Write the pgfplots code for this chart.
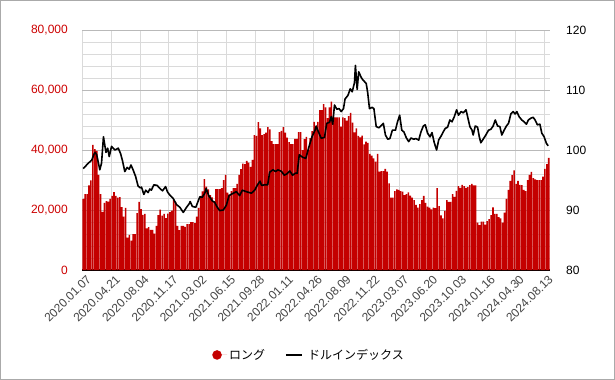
\documentclass[border=0pt]{standalone}
\usepackage{fontspec}
\setmainfont{Liberation Sans}
\newfontfamily\jp{Noto Sans CJK JP}
\usepackage{pgfplots}
\usepackage{pgfplotstable}
\pgfplotsset{compat=1.18}
\definecolor{barred}{RGB}{196,0,0}
\definecolor{lblred}{RGB}{204,0,0}
\definecolor{tickgray}{RGB}{68,68,68}
\definecolor{gridminor}{RGB}{218,218,218}
\definecolor{gridmajor}{RGB}{185,185,185}
\definecolor{framegray}{RGB}{170,170,170}

\pgfplotstableread{
y
23700
25300
25300
28200
29900
41700
40300
39700
31700
25300
19400
22400
23000
22800
23700
24700
26000
24700
24100
24300
21000
17800
20700
10800
11700
9800
12000
12000
19000
22700
20300
18400
18700
13900
14300
13400
13400
12100
14700
18300
20100
18100
18700
17300
18800
19300
19800
23300
22700
14700
13300
14700
14700
14400
15300
15300
16000
16000
15600
17800
20700
24700
26200
30300
27800
26900
25000
24200
22800
27000
27000
27000
27300
30000
31700
25800
25100
26300
27300
27300
28700
31700
33600
35500
35300
36400
35800
34400
36700
45000
44700
49300
47200
45000
45300
45800
47600
46900
43000
42000
42000
42000
46000
46400
47600
45800
44100
42600
42000
42000
43700
43700
46000
46000
40000
43600
44400
40000
44000
46300
49400
47800
49400
53300
53300
55300
54200
50600
54200
56100
51100
50900
50900
50900
47800
50900
50600
49800
51300
52400
49100
45900
47200
44700
44200
44800
41900
42800
42400
38700
38100
37200
36100
38700
32800
33000
33000
33700
32800
28900
24100
24100
26300
26900
26700
26300
26100
25000
25300
25900
24800
24100
23300
21700
20800
22000
23300
24700
22400
21100
20800
20200
20800
20600
27300
21300
18200
17200
19700
23300
22700
22700
25300
24400
26400
28000
27400
28400
28000
27400
27600
28300
28700
28200
28200
15800
15000
16100
16100
15100
16300
17000
18300
20900
18700
18700
17600
17200
15800
19100
23700
26700
29700
31600
33200
28700
29700
28400
28300
26700
26300
30000
31700
32700
30600
30200
30000
30000
30000
31100
33700
35300
37400
}\longdata

\pgfplotstableread{
x y
0 96.9
2.6 97.8
4.4 98.3
5.7 99.4
6.2 99.6
7.0 99.2
8.6 96.7
9.5 97.8
10.5 102.2
11.8 99.6
12.7 100.3
13.5 98.9
14.7 100.6
16.5 100.0
18.2 100.3
19.4 99.4
20.4 98.2
21.6 96.4
22.8 97.1
23.9 96.8
24.8 97.5
25.9 96.7
27.2 95.6
28.5 94.0
29.5 93.7
30.3 93.8
31.5 92.6
32.5 93.3
33.7 92.9
34.6 93.5
35.4 93.3
36.7 94.2
38.4 94.1
39.8 93.6
41.2 93.2
42.8 93.9
43.8 93.0
45.0 92.5
46.7 91.95
48.5 90.9
50.2 90.45
52.0 89.6
53.7 90.45
55.0 91.0
55.6 91.4
56.7 90.6
58.5 90.45
60.6 92.2
61.8 92.1
63.2 92.8
63.9 93.6
65.2 92.4
67.1 91.5
68.3 91.3
69.4 90.6
70.9 89.9
72.8 90.0
74.4 90.8
75.8 92.4
77.4 92.7
79.6 93.05
81.3 92.4
82.7 93.3
84.8 93.05
87.4 92.8
89.1 93.3
90.8 94.3
91.9 94.8
92.7 94.1
94.3 94.2
95.9 94.2
96.9 96.3
98.6 96.7
100.0 96.4
101.2 96.7
103.0 96.45
104.5 95.8
106.0 96.05
107.4 96.5
108.8 95.8
110.4 96.15
111.2 96.1
112.3 99.2
114.0 98.8
115.7 98.6
117.3 100.5
118.9 102.2
120.5 103.3
121.1 104.0
121.9 103.3
123.7 101.95
125.4 102.1
126.6 104.45
128.0 104.6
128.9 105.55
129.7 104.3
130.6 107.5
131.8 106.8
133.0 106.9
134.1 106.4
135.3 106.9
136.1 108.5
137.6 109.1
138.8 110.2
139.8 109.7
141.0 111.2
141.5 114.1
142.4 110.1
143.2 113.05
144.5 112.1
145.3 111.7
146.2 111.4
147.1 111.1
147.9 109.5
148.8 106.9
150.2 107.1
151.1 106.9
152.3 103.9
153.7 103.7
155.0 104.1
156.0 104.45
157.1 102.5
158.3 101.8
159.4 101.9
160.7 103.3
162.3 103.3
163.3 104.6
164.5 105.8
165.6 103.3
166.7 103.0
168.0 102.0
169.2 101.4
170.4 102.0
171.8 101.8
173.0 101.9
174.4 101.65
175.6 103.05
176.8 104.0
177.8 104.2
179.0 102.8
180.3 102.2
181.3 102.9
182.5 101.2
183.7 100.0
184.8 101.7
186.0 102.3
187.2 103.05
188.2 103.6
189.4 103.8
190.6 105.0
191.7 104.7
192.9 105.55
194.1 106.7
195.1 105.8
196.4 106.4
197.6 106.2
199.0 106.7
200.0 105.3
201.0 103.9
202.1 103.3
202.7 102.5
203.8 104.0
205.0 103.8
205.9 102.2
206.7 101.2
207.9 101.8
209.3 102.5
210.7 103.3
211.9 103.45
213.1 104.0
214.2 105.0
215.4 104.0
216.6 103.9
217.6 102.5
218.8 103.3
220.0 104.0
221.1 104.45
222.3 106.0
223.5 106.4
224.5 106.0
225.4 106.4
226.6 105.55
228.0 105.0
229.2 104.7
230.4 104.3
231.4 105.0
232.7 105.3
233.9 105.45
234.9 105.0
236.1 104.2
237.4 104.3
238.4 102.8
239.6 102.2
240.8 101.1
241.7 100.7
}\dxydata

\begin{document}
\begin{tikzpicture}
\useasboundingbox (0,0) rectangle (615bp,380bp);
\draw[framegray, line width=1bp] (0.5bp,0.5bp) rectangle (614.5bp,379.5bp);
\begin{axis}[
  at={(82.3bp,110bp)}, anchor=south west,
  scale only axis, width=467.4bp, height=240bp,
  xmin=-0.5, xmax=242.5, ymin=0, ymax=80000,
  axis x line*=bottom, axis y line*=left,
  x axis line style={black, line width=1.5bp, -},
  y axis line style={draw=none},
  xtick={-0.5,14.5,29.5,44.5,59.5,74.5,89.5,104.5,119.5,134.5,149.5,164.5,179.5,194.5,209.5,224.5,239.5},
  xticklabels={2020.01.07,2020.04.21,2020.08.04,2020.11.17,2021.03.02,2021.06.15,2021.09.28,2022.01.11,2022.04.26,2022.08.09,2022.11.22,2023.03.07,2023.06.20,2023.10.03,2024.01.16,2024.04.30,2024.08.13},
  ytick={0,20000,40000,60000,80000},
  minor y tick num=4,
  major tick length=0pt, minor tick length=0pt,
  xmajorgrids, ymajorgrids, yminorgrids,
  major grid style={gridminor, line width=0.8bp},
  minor grid style={gridminor, line width=0.8bp},
  extra y ticks={20000,40000,60000,80000},
  extra y tick labels={},
  extra y tick style={grid=major, major grid style={gridmajor, line width=0.8bp}},
  scaled y ticks=false,
  /pgf/number format/fixed,
  /pgf/number format/1000 sep={,},
  /pgf/number format/assume math mode=true,
  yticklabel style={lblred, font=\fontsize{12bp}{14bp}\selectfont, xshift=-11bp},
  xticklabel style={tickgray, font=\fontsize{12bp}{14bp}\selectfont, rotate=45, anchor=east, xshift=3bp, yshift=-10bp},
  legend style={at={(0.485,-0.354)}, anchor=center, draw=none, fill=none,
    legend columns=2, font=\jp\fontsize{12bp}{14bp}\selectfont,
    /tikz/every even column/.append style={column sep=18bp}},
  clip=false,
]
\addplot[ybar, bar width=0.82, fill=barred, draw=none,
  legend image code/.code={\fill[barred] (0bp,0bp) circle (4.8bp); \path (-4.8bp,0bp) -- (10bp,0bp);}]
  table[x expr=\coordindex, y=y] {\longdata};
\addlegendentry{ロング}
\addlegendimage{legend image code/.code={\draw[black, line width=1.8bp] (-5bp,0bp) -- (11bp,0bp); \path (15bp,0bp);}}
\addlegendentry{ドルインデックス}
\end{axis}
\begin{axis}[
  at={(82.3bp,110bp)}, anchor=south west,
  scale only axis, width=467.4bp, height=240bp,
  xmin=-0.5, xmax=242.5, ymin=80, ymax=120,
  axis y line*=right, axis x line=none,
  y axis line style={draw=none},
  ytick={80,90,100,110,120},
  major tick length=0pt,
  /pgf/number format/assume math mode=true,
  yticklabel style={black, font=\fontsize{12bp}{14bp}\selectfont, xshift=13bp},
]
\addplot[black, line width=1.6bp, line join=round, mark=none] table[x=x, y=y] {\dxydata};
\end{axis}
\end{tikzpicture}
\end{document}
